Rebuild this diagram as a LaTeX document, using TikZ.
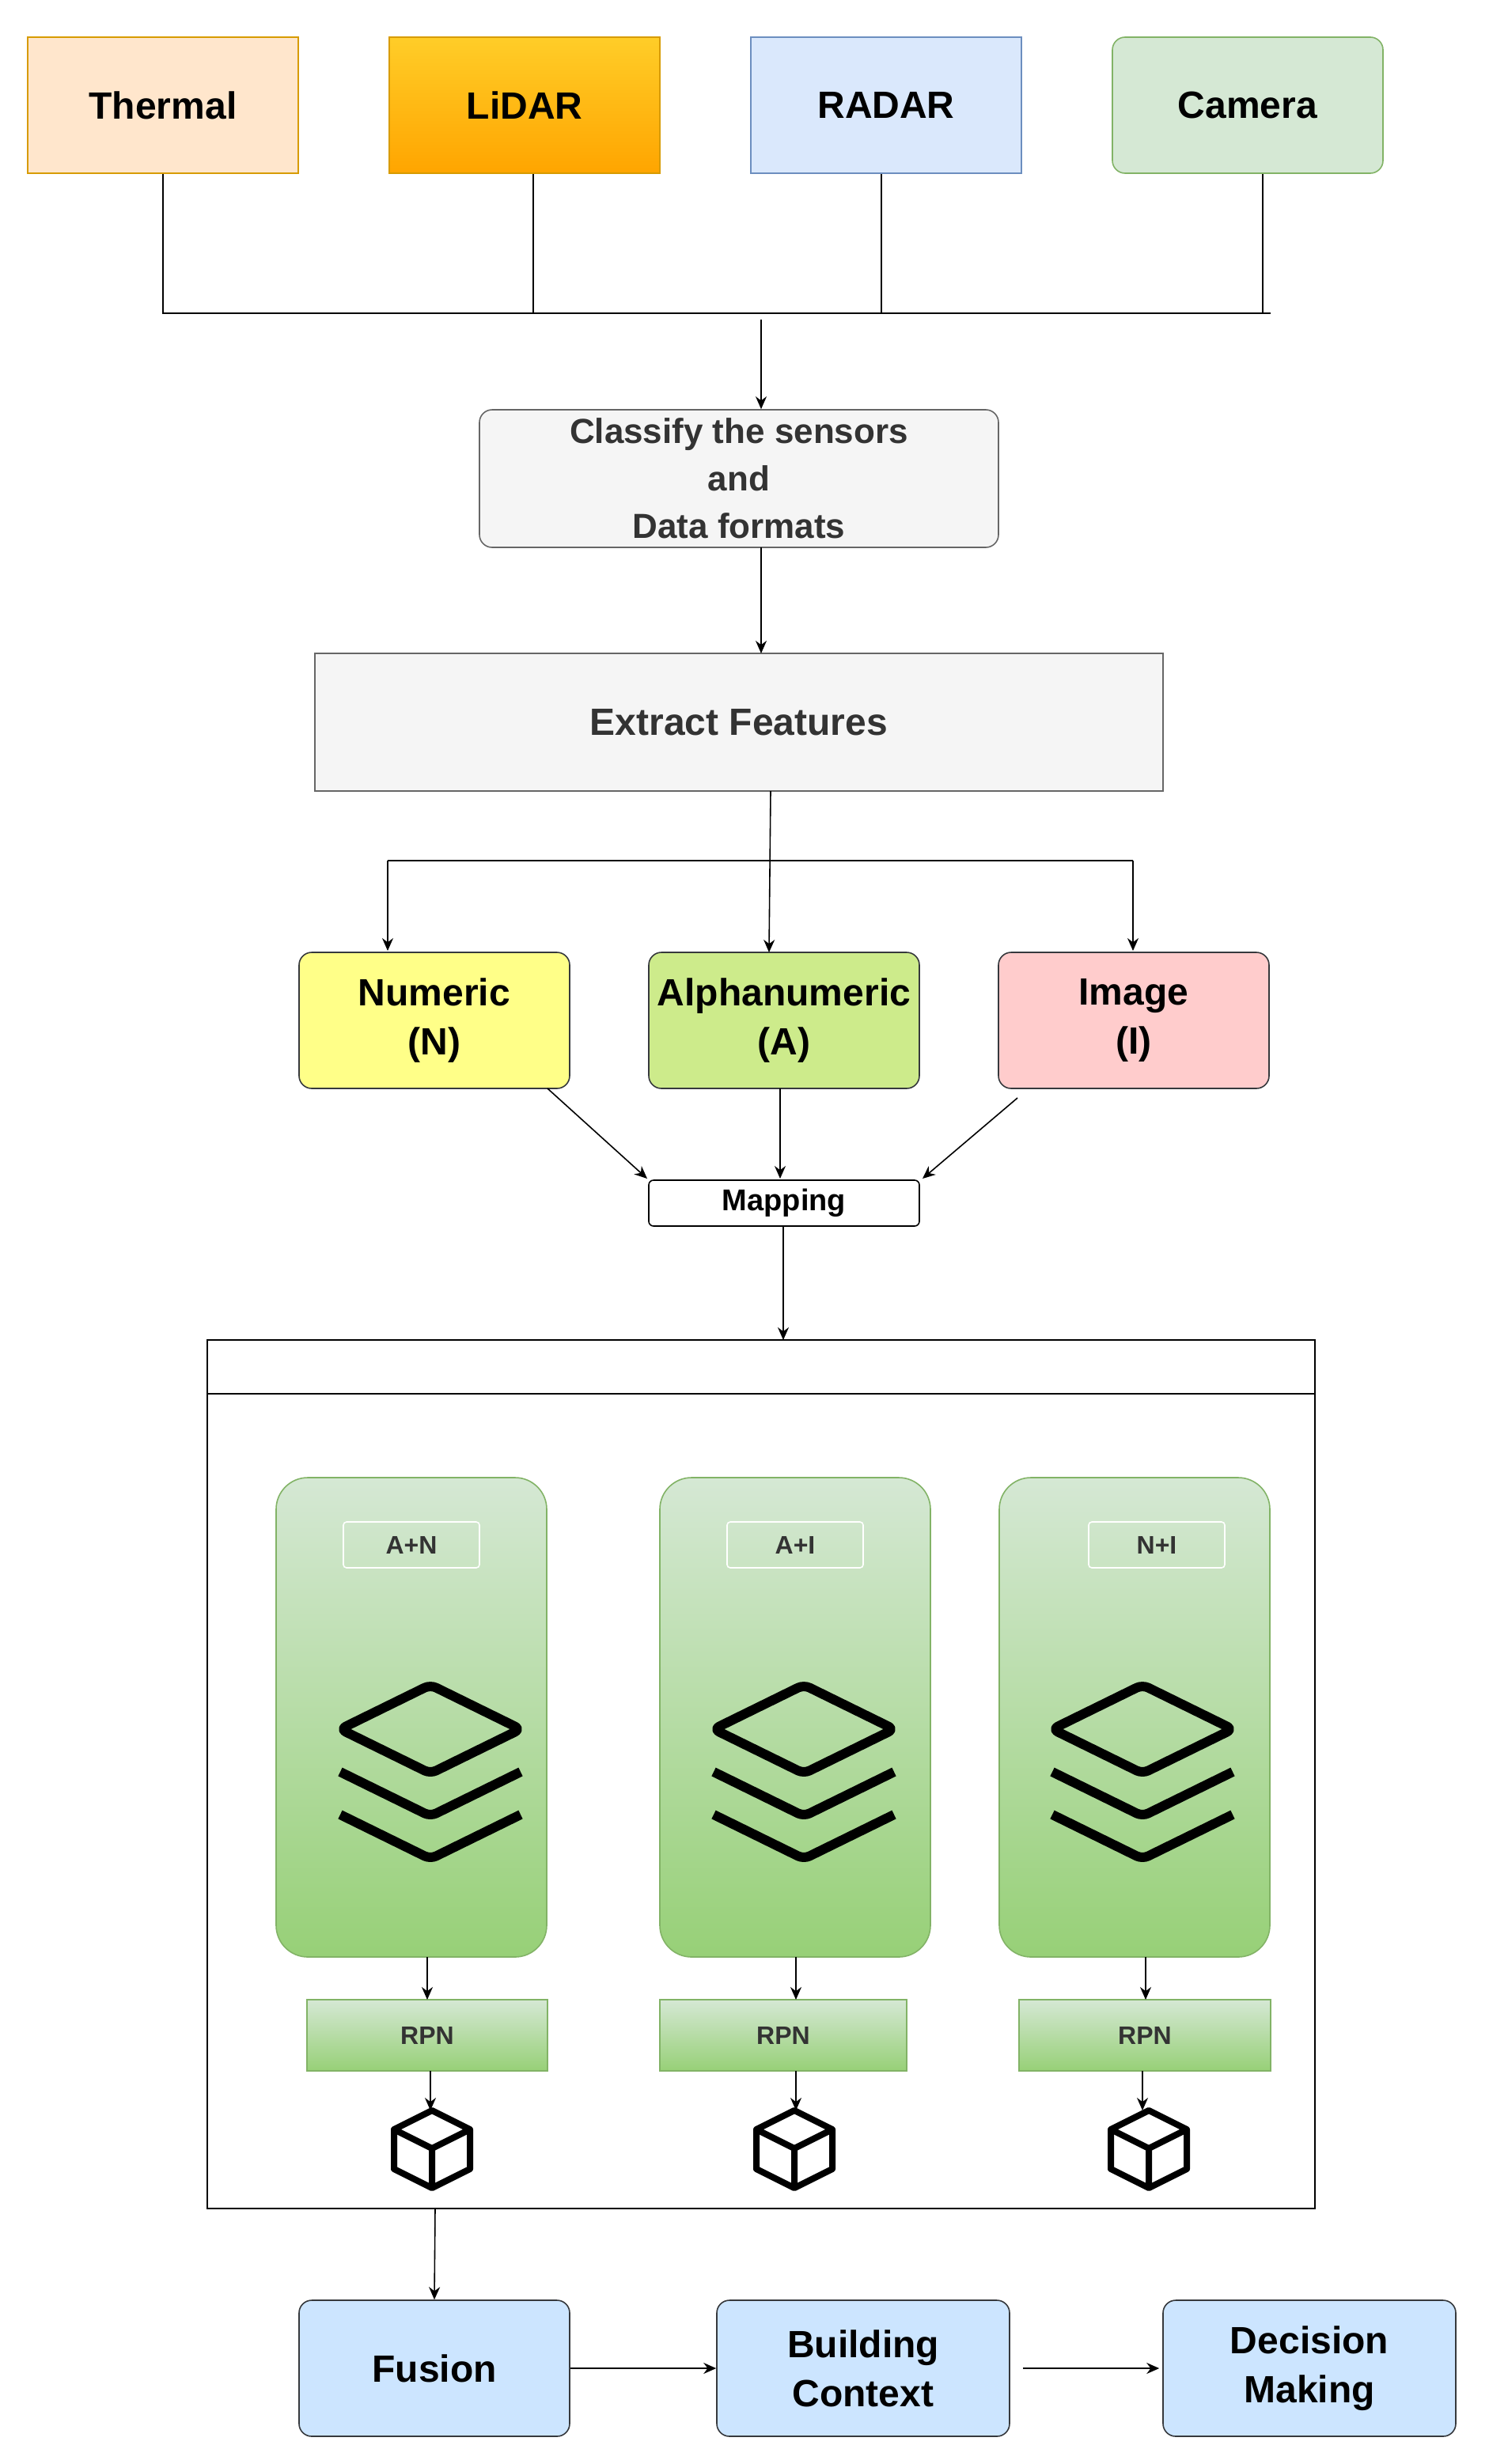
\documentclass[tikz,border=0pt]{standalone}
\usepackage{fontspec}
\setmainfont{Liberation Sans}
\usetikzlibrary{arrows.meta}
\definecolor{tf}{HTML}{FFE6CC}\definecolor{tb}{HTML}{D79B00}
\definecolor{rf}{HTML}{DAE8FC}\definecolor{rb}{HTML}{6C8EBF}
\definecolor{cf}{HTML}{D5E8D4}\definecolor{cb}{HTML}{82B366}
\definecolor{gf}{HTML}{F5F5F5}\definecolor{gb}{HTML}{666666}
\definecolor{gt}{HTML}{333333}\definecolor{db}{HTML}{36393D}
\definecolor{nf}{HTML}{FFFF88}\definecolor{af}{HTML}{CDEB8B}
\definecolor{imf}{HTML}{FFCCCC}\definecolor{bf}{HTML}{CCE5FF}
\definecolor{g2}{HTML}{97D077}\definecolor{ly}{HTML}{FFCD28}\definecolor{lo}{HTML}{FFA500}
\begin{document}
\begin{tikzpicture}[x=1pt,y=-1pt,
 box/.style={draw,line width=0.8pt,minimum width=171pt,minimum height=86pt,font=\fontsize{24}{30}\selectfont\bfseries,align=center,inner sep=0pt},
 arr/.style={-{Stealth[length=8pt,width=7pt]},line width=0.8pt},
 panel/.style={draw=cb,line width=0.8pt,rounded corners=20pt,top color=cf,bottom color=g2,minimum width=171pt,minimum height=303pt},
 rpn/.style={draw=cb,line width=0.8pt,top color=cf,bottom color=g2,minimum height=45pt,font=\fontsize{16}{18}\selectfont\bfseries,text=gt},
 lab/.style={draw=white,line width=0.8pt,rounded corners=2pt,minimum width=86pt,minimum height=29pt,font=\fontsize{16}{18}\selectfont\bfseries,text=gt},
 lay/.style={line width=6pt,line join=round,rounded corners=4pt},
 cube/.style={line width=4pt,line join=round}]
\useasboundingbox (0,0) rectangle (941,1557.5);
% sensors
\node[box,draw=tb,fill=tf] (th) at (103,66.5) {Thermal};
\node[box,draw=tb,top color=ly,bottom color=lo] (li) at (331.5,66.5) {LiDAR};
\node[box,draw=rb,fill=rf] (ra) at (560,66.5) {RADAR};
\node[box,draw=cb,fill=cf,rounded corners=8pt] (ca) at (788.5,66.5) {Camera};
\coordinate (bl) at (103,198); \coordinate (br) at (803,198);
\draw[line width=0.8pt] (th.south) -- (bl) -- (br);
\draw[line width=0.8pt] (li.south -| 337,0) -- (337,198);
\draw[line width=0.8pt] (ra.south -| 557,0) -- (557,198);
\draw[line width=0.8pt] (ca.south -| 798,0) -- (798,198);
\node[box,draw=gb,fill=gf,text=gt,rounded corners=8pt,minimum width=328pt,minimum height=87pt,font=\fontsize{22}{30}\selectfont\bfseries] (cl) at (467,302.5) {Classify the sensors\\and\\Data formats};
\coordinate (m1) at (481,202);
\draw[arr] (m1) -- (m1 |- cl.north);
\node[box,draw=gb,fill=gf,text=gt,minimum width=536pt,minimum height=87pt] (ex) at (467,456.5) {Extract Features};
\draw[arr] (481,346) -- (481,413);
% types
\node[box,draw=db,fill=nf,rounded corners=8pt,font=\fontsize{24}{31}\selectfont\bfseries] (nu) at (274.5,645) {Numeric\\(N)};
\node[box,draw=db,fill=af,rounded corners=8pt,font=\fontsize{24}{31}\selectfont\bfseries] (al) at (495.5,645) {Alphanumeric\\(A)};
\node[box,draw=db,fill=imf,rounded corners=8pt,font=\fontsize{24}{31}\selectfont\bfseries] (im) at (716.5,645) {Image\\(I)};
\draw[arr] (487,500) -- (486,602);
\coordinate (hl) at (245,544); \coordinate (hr) at (716,544);
\draw[line width=0.8pt] (hl) -- (hr);
\draw[arr] (hl) -- (245,601);
\draw[arr] (hr) -- (716,601);
\node[draw,line width=0.8pt,rounded corners=3pt,minimum width=171pt,minimum height=29pt,inner sep=0pt,font=\fontsize{19}{22}\selectfont\bfseries] (ma) at (495.5,760.5) {Mapping};
\draw[arr] (346,688) -- (409,745);
\draw[arr] (493,688) -- (493,745);
\draw[arr] (643,694) -- (583,745);
% container
\draw[line width=0.8pt] (131,847) rectangle (831,1396);
\draw[line width=0.8pt] (131,881) -- (831,881);
\coordinate (ct) at (495,847);
\draw[arr] (495,775) -- (ct);
\foreach \n/\px/\lx/\ix/\t/\rx/\rw in {1/260/260/272/A+N/270/152, 2/502.5/502.5/508/A+I/495/156, 3/717/731/722/N+I/723.5/159}{
 \node[panel] (p\n) at (\px,1085.5) {};
 \node[lab] (l\n) at (\lx,976.5) {\t};
 \begin{scope}[shift={(\ix,1093)}]
  \draw[lay] (-57,54) -- (0,82) -- (57,54);
  \draw[lay] (-57,27) -- (0,55) -- (57,27);
  \draw[lay] (-57,0) -- (0,-28) -- (57,0) -- (0,28) -- cycle;
 \end{scope}
 \node[rpn,minimum width=\rw pt] (r\n) at (\rx,1286.5) {RPN};
}
\draw[arr] (270,1237) -- (270,1264);
\draw[arr] (503,1237) -- (503,1264);
\draw[arr] (724,1237) -- (724,1264);
\foreach \n/\cx/\ax in {1/273/272,2/502/503,3/726/722}{
 \draw[arr] (\ax,1309) -- (\ax,1334);
 \begin{scope}[shift={(\cx,1358)}]
  \draw[cube] (0,-24) -- (24,-12) -- (24,13) -- (0,25) -- (-24,13) -- (-24,-12) -- cycle;
  \draw[cube] (-24,-12) -- (0,0) -- (24,-12) (0,0) -- (0,25);
 \end{scope}
}
% bottom
\node[box,draw=db,fill=bf,rounded corners=8pt,font=\fontsize{24}{31}\selectfont\bfseries] (fu) at (274.5,1497) {Fusion};
\node[box,draw=db,fill=bf,rounded corners=8pt,minimum width=185pt,font=\fontsize{24}{31}\selectfont\bfseries] (bc) at (545.5,1497) {Building\\Context};
\node[box,draw=db,fill=bf,rounded corners=8pt,minimum width=185pt,font=\fontsize{24}{31}\selectfont\bfseries] (dm) at (827.5,1497) {Decision\\Making};
\draw[arr] (275,1396) -- (fu.north);
\draw[arr] (fu.east) -- (bc.west);
\draw[arr] ([xshift=8pt]bc.east) -- ([xshift=-2pt]dm.west);
\end{tikzpicture}
\end{document}
